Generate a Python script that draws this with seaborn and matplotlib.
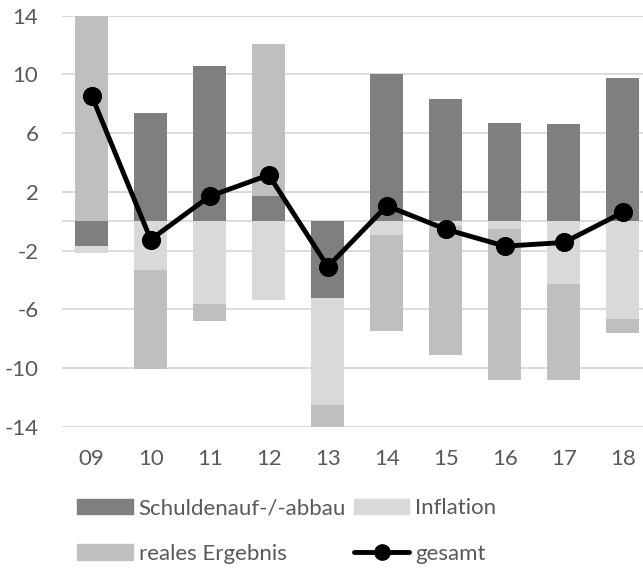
import matplotlib
matplotlib.use("Agg")
import matplotlib.pyplot as plt
from matplotlib.patches import Patch
from matplotlib.lines import Line2D
import seaborn as sns
import numpy as np

# data
years = ["09", "10", "11", "12", "13", "14", "15", "16", "17", "18"]
schulden = [-1.7, 7.4, 10.6, 1.7, -5.25, 10.0, 8.3, 6.7, 6.6, 9.75]
inflation = [-0.45, -3.3, -5.65, -5.4, -7.3, -0.95, -0.35, -0.5, -4.3, -6.65]
reales = [14.0, -6.75, -1.15, 10.35, -1.5, -6.55, -8.75, -10.3, -6.55, -1.0]
gesamt = [8.55, -1.25, 1.7, 3.15, -3.1, 1.05, -0.55, -1.7, -1.45, 0.6]

labels = ["Schuldenauf-/-abbau", "Inflation", "reales Ergebnis"]
colors = ["#7f7f7f", "#d9d9d9", "#bfbfbf"]
text_col = "#595959"

sns.set_theme(style="white")
plt.rcParams["font.family"] = ["Lato", "DejaVu Sans"]

fig = plt.figure(figsize=(6.43, 5.68), dpi=100)
ax = fig.add_axes([62 / 643, 1 - 426.7 / 568, 1 - 62 / 643, (426.7 - 15.7) / 568])

# stacked diverging bars: cumulative sums per sign, drawn outermost first
series = np.array([schulden, inflation, reales])
pos = np.cumsum(np.clip(series, 0, None), axis=0)
neg = np.cumsum(np.clip(series, None, 0), axis=0)
for k in range(len(series) - 1, -1, -1):
    for cum in (pos[k], neg[k]):
        sns.barplot(x=years, y=cum, color=colors[k], saturation=1, width=0.56,
                    linewidth=0, ax=ax, zorder=2)

sns.lineplot(x=np.arange(len(years)), y=gesamt, color="black", linewidth=3.5,
             marker="o", markersize=13, markeredgecolor="black", ax=ax,
             zorder=4, clip_on=False)

ax.set_ylim(-14, 14)
ax.set_xlim(-0.503, 9.34)
ax.set_yticks([14, 10, 6, 2, -2, -6, -10, -14])
ax.set_yticklabels(["14", "10", "6", "2", "-2", "-6", "-10", "-14"])
ax.yaxis.grid(True, color="#d9d9d9", linewidth=1.3, zorder=0)
ax.axhline(0, color="#d9d9d9", linewidth=1.3, zorder=1)
ax.set_axisbelow(True)
for s in ax.spines.values():
    s.set_visible(False)
ax.tick_params(axis="both", length=0, labelsize=16, colors=text_col)
ax.tick_params(axis="x", pad=16)
ax.tick_params(axis="y", pad=17)
ax.set_xlabel("")
ax.set_ylabel("")

handles = [Patch(color=colors[0]), Patch(color=colors[2]),
           Patch(color=colors[1]),
           Line2D([], [], color="black", linewidth=3.5, marker="o", markersize=11)]
leg_labels = [labels[0], labels[2], labels[1], "gesamt"]
fig.legend(handles, leg_labels, ncol=2, loc="upper left",
           bbox_to_anchor=(66 / 643, 1 - 487 / 568), frameon=False, borderpad=0,
           fontsize=16, labelcolor=text_col, handlelength=2.5, handleheight=0.68,
           handletextpad=0.27, columnspacing=0.35, labelspacing=1.15)

fig.savefig("out.png", dpi=100)
